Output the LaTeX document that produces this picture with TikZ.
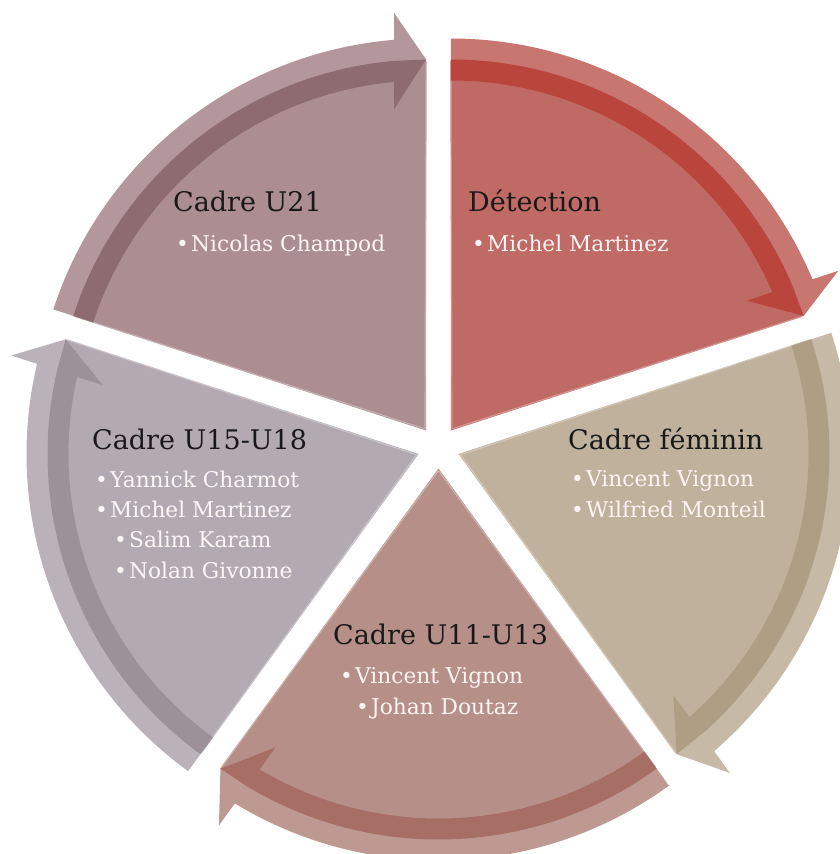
\documentclass[tikz,border=0pt]{standalone}
\usepackage{fontspec}
\setmainfont{DejaVu Serif}
\definecolor{detP}{HTML}{BF6A64}
\definecolor{detL}{HTML}{C77670}
\definecolor{detD}{HTML}{B9453D}
\definecolor{femP}{HTML}{BFB19C}
\definecolor{femL}{HTML}{C6B9A5}
\definecolor{femD}{HTML}{AE9E83}
\definecolor{uonP}{HTML}{B69088}
\definecolor{uonL}{HTML}{BE9991}
\definecolor{uonD}{HTML}{A66E65}
\definecolor{ufiP}{HTML}{B3A9B1}
\definecolor{ufiL}{HTML}{BBB2B9}
\definecolor{ufiD}{HTML}{9C9199}
\definecolor{utwP}{HTML}{AC8D91}
\definecolor{utwL}{HTML}{B4979C}
\definecolor{utwD}{HTML}{8E6A71}
\newcommand{\segdraw}[4]{%
  \pgfmathsetmacro{\segT}{#1-36}%
  \pgfmathsetmacro{\segE}{#1-72}%
  \pgfmathsetmacro{\segHa}{\segE+4.4}%
  \pgfmathsetmacro{\segHb}{\segE+4.7}%
  \pgfmathsetmacro{\segHc}{\segE+5.0}%
  \pgfmathsetmacro{\segHd}{\segE+5.3}%
  \pgfmathsetmacro{\segHe}{\segE+5.7}%
  \begin{scope}[shift={(\segT:21)}]
    \fill[#2] (0,0) -- (#1:371) arc[start angle=#1, end angle=\segE, radius=371] -- cycle;
    \draw[#2!70!white, line width=1.2pt, line join=round]
      ([shift={(\segT:2)}]0,0) -- (#1:369) (\segE:369) -- ([shift={(\segT:2)}]0,0);
    \fill[#3] (#1:350) -- (#1:392) arc[start angle=#1, end angle=\segHb, radius=392]
      -- (\segHa:419) -- (\segE:371) -- (\segHe:323) -- (\segHd:350)
      arc[start angle=\segHd, end angle=#1, radius=350] -- cycle;
    \fill[#4] (#1:350) -- (#1:371) arc[start angle=#1, end angle=\segHc, radius=371]
      -- (\segE:371) -- (\segHe:323) -- (\segHd:350)
      arc[start angle=\segHd, end angle=#1, radius=350] -- cycle;
  \end{scope}}
\newcommand{\bul}{\makebox[15pt][l]{•}}
\tikzset{
  headtxt/.style={anchor=base west, inner sep=0pt, font=\fontsize{27}{30}\selectfont, text=black!90},
  itemtxt/.style={anchor=base west, inner sep=0pt, font=\fontsize{21.7}{24}\selectfont, text=white!96!red}
}
\begin{document}
\begin{tikzpicture}[x=1pt,y=1pt]
  \useasboundingbox (-438.5,-406.5) rectangle (401.5,447.5);
  \fill[white] (-438.5,-406.5) rectangle (401.5,447.5);
  \clip (-438.5,-406.5) rectangle (401.5,447.5);
  % segments
  \segdraw{90}{detP}{detL}{detD}
  \segdraw{18}{femP}{femL}{femD}
  \segdraw{-54}{uonP}{uonL}{uonD}
  \segdraw{-126}{ufiP}{ufiL}{ufiD}
  \segdraw{162}{utwP}{utwL}{utwD}
  % texts
  \node[headtxt] (det) at (29.5,235.5) {Détection};
  \node[itemtxt] (detA) at (33.5,195.5) {\bul Michel Martinez};
  \node[headtxt] (utw) at (-265.5,235.5) {Cadre U21};
  \node[itemtxt] (utwA) at (-262.5,195.5) {\bul Nicolas Champod};
  \node[headtxt] (ufi) at (-346.5,-1.5) {Cadre U15-U18};
  \node[itemtxt] (ufiA) at (-343.5,-39.5) {\bul Yannick Charmot};
  \node[itemtxt] (ufiB) at (-343.5,-69.5) {\bul Michel Martinez};
  \node[itemtxt] (ufiC) at (-324.5,-99.5) {\bul Salim Karam};
  \node[itemtxt] (ufiD) at (-324.5,-130.5) {\bul Nolan Givonne};
  \node[headtxt] (fem) at (129.5,-1.5) {Cadre féminin};
  \node[itemtxt] (femA) at (132.5,-38.5) {\bul Vincent Vignon};
  \node[itemtxt] (femB) at (132.5,-69.5) {\bul Wilfried Monteil};
  \node[headtxt] (uon) at (-105.5,-196.5) {Cadre U11-U13};
  \node[itemtxt] (uonA) at (-98.5,-235.5) {\bul Vincent Vignon};
  \node[itemtxt] (uonB) at (-82.5,-266.5) {\bul Johan Doutaz};
\end{tikzpicture}
\end{document}
